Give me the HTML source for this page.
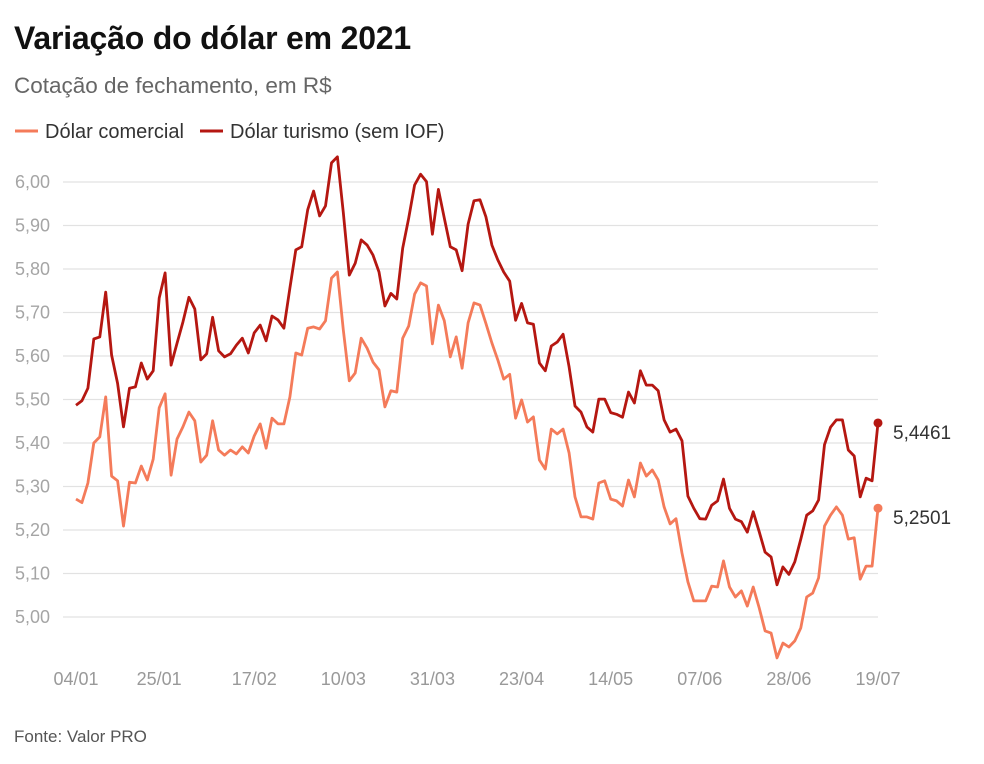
<!DOCTYPE html>
<html><head><meta charset="utf-8"><style>
body{margin:0;background:#fff;font-family:"Liberation Sans",sans-serif;}
#wrap{position:relative;width:984px;height:764px;overflow:hidden;}
</style></head><body>
<div id="wrap">
<svg id="chart" width="984" height="764">
<text x="14" y="49" font-size="32" font-weight="bold" fill="#111" letter-spacing="-0.2">Variação do dólar em 2021</text>
<text x="14" y="93" font-size="22.5" fill="#666">Cotação de fechamento, em R$</text>
<g>
<g><line x1="15" y1="131" x2="38" y2="131" stroke="#f47b5a" stroke-width="3"/><text x="45" y="138" font-size="20" fill="#333">Dólar comercial</text></g>
<g><line x1="200" y1="131" x2="223" y2="131" stroke="#b51711" stroke-width="3"/><text x="230" y="138" font-size="20" fill="#333">Dólar turismo (sem IOF)</text></g>
</g>
<g id="grid"></g><g id="xlab"></g><g id="lines"></g>
<text x="14" y="742" font-size="17" fill="#555">Fonte: Valor PRO</text>
</svg></div>
<script>
const yTicks=[5.0,5.1,5.2,5.3,5.4,5.5,5.6,5.7,5.8,5.9,6.0];
const xLabels=["04/01","25/01","17/02","10/03","31/03","23/04","14/05","07/06","28/06","19/07"];
const xLabelIdx=[0,14,30,45,60,75,90,105,120,135];
const comercial=[5.271,5.263,5.308,5.400,5.414,5.506,5.324,5.313,5.209,5.310,5.308,5.347,5.315,5.363,5.481,5.513,5.326,5.409,5.437,5.471,5.451,5.356,5.372,5.451,5.384,5.372,5.384,5.375,5.391,5.377,5.416,5.444,5.388,5.457,5.444,5.444,5.506,5.607,5.602,5.664,5.667,5.662,5.681,5.779,5.793,5.660,
5.543,5.561,5.641,5.618,5.586,5.568,5.483,5.520,5.517,5.641,5.669,5.742,5.768,5.761,5.628,5.717,5.681,5.598,5.644,5.572,5.676,5.722,5.717,5.675,5.630,5.591,5.547,5.558,5.457,5.499,5.448,5.460,5.361,5.340,5.432,5.421,5.432,5.377,5.276,5.230,5.230,5.225,5.308,
5.313,5.271,5.267,5.255,5.315,5.276,5.354,5.324,5.338,5.315,5.253,5.214,5.226,5.147,5.081,5.037,5.037,5.037,5.071,5.069,5.129,5.069,5.046,5.060,5.025,5.069,5.021,4.968,4.963,4.906,4.940,4.931,4.945,4.975,5.046,5.055,5.090,5.209,5.234,5.253,5.234,5.179,5.182,5.087,5.117,5.117,5.2501];
const turismo=[5.487,5.497,5.526,5.639,5.644,5.747,5.602,5.537,5.437,5.526,5.529,5.584,5.547,5.566,5.733,5.791,5.579,5.629,5.678,5.735,5.708,5.591,5.605,5.689,5.612,5.598,5.605,5.625,5.641,5.607,5.653,5.671,5.635,5.692,5.683,5.664,5.756,5.844,5.851,5.936,5.979,5.922,5.945,6.044,6.058,5.930,
5.786,5.813,5.867,5.855,5.832,5.793,5.715,5.744,5.731,5.848,5.917,5.993,6.018,6.001,5.880,5.983,5.917,5.851,5.844,5.796,5.903,5.957,5.959,5.920,5.855,5.821,5.793,5.772,5.682,5.721,5.676,5.673,5.584,5.566,5.623,5.632,5.650,5.575,5.485,5.471,5.437,5.425,5.501,
5.501,5.470,5.466,5.459,5.517,5.492,5.566,5.533,5.533,5.520,5.453,5.425,5.432,5.405,5.278,5.250,5.226,5.225,5.257,5.267,5.317,5.250,5.225,5.219,5.195,5.242,5.196,5.149,5.138,5.074,5.115,5.098,5.127,5.179,5.234,5.244,5.269,5.396,5.436,5.453,5.453,5.384,5.370,5.276,5.319,5.313,5.4461];
const NS="http://www.w3.org/2000/svg";
const X0=76,X1=878,Y6=182,Y5=617;
function xs(i){return X0+(X1-X0)*i/(comercial.length-1);}
function ys(v){return Y5-(v-5)*(Y5-Y6);}
function mk(t,a,p){const e=document.createElementNS(NS,t);for(const k in a)e.setAttribute(k,a[k]);p.appendChild(e);return e;}
const fmt=v=>v.toFixed(2).replace('.',',');
const grid=document.getElementById('grid');
yTicks.forEach(v=>{
 const l=mk('line',{x1:63,x2:878,y1:ys(v),y2:ys(v),stroke:'#e2e2e2','stroke-width':1.3},grid);
 
 
 const t=mk('text',{x:15,y:ys(v)+6,'font-size':18,fill:'#a5a5a5'},grid);
 t.textContent=fmt(v);
 
 
});
const xl=document.getElementById('xlab');
xLabels.forEach((s,k)=>{
 const t=mk('text',{x:xs(xLabelIdx[k]),y:685,'font-size':18,fill:'#999','text-anchor':'middle'},xl);
 t.textContent=s;
 
 
});
const lines=document.getElementById('lines');
function draw(arr,col,name,lbl){
 const d=arr.map((v,i)=>(i?'L':'M')+xs(i).toFixed(1)+','+ys(v).toFixed(1)).join('');
 const p=mk('path',{d:d,fill:'none',stroke:col,'stroke-width':2.8,'stroke-linejoin':'round'},lines);
 
 
 const n=arr.length-1;
 const c=mk('circle',{cx:xs(n),cy:ys(arr[n]),r:4.5,fill:col},lines);
 
 
 const t=mk('text',{x:893,y:ys(arr[n])+16,'font-size':19,fill:'#333'},lines);
 t.textContent=lbl;
 
 
}
draw(comercial,'#f47b5a','comercial',comercial[comercial.length-1].toFixed(4).replace('.',','));
draw(turismo,'#b51711','turismo',turismo[turismo.length-1].toFixed(4).replace('.',','));
</script>
</body></html>
